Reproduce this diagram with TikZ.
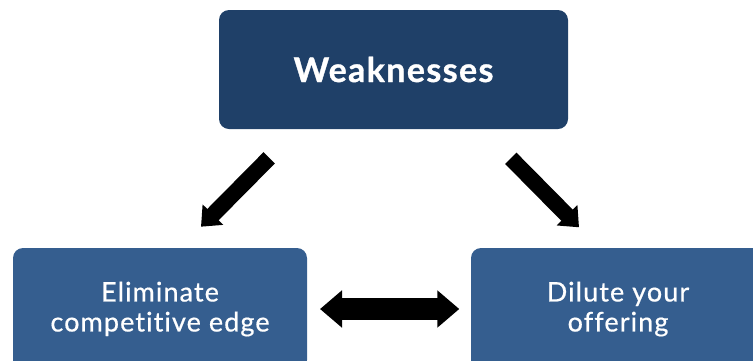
\documentclass[tikz,border=0pt]{standalone}
\usepackage{fontspec}
\setmainfont{Lato}
\newfontfamily\headfont[LetterSpace=4, Ligatures=NoCommon, FakeBold=1]{Lato}
\newfontfamily\bodyfont[LetterSpace=4, Ligatures=NoCommon, FakeBold=0.6]{Lato}
\usetikzlibrary{arrows.meta}
\definecolor{navy}{HTML}{1F4068}
\definecolor{steel}{HTML}{355E8F}

\begin{document}
\begin{tikzpicture}[x=1pt, y=-1pt,
    box/.style={rounded corners=10pt, text=white, align=center, inner sep=0pt},
    fatarrow/.style={line width=16pt, -{Triangle[width=28pt, length=17pt]}},
    twoway/.style={line width=22pt, {Triangle[width=36pt, length=22pt]}-{Triangle[width=36pt, length=22pt]}}]
    \useasboundingbox(0, 0) rectangle(753, 360);
    \clip(0, 0) rectangle(753, 360);
    \node[box, fill=navy, minimum width=349pt, minimum height=119pt, font=\headfont\fontsize{34}{40}\selectfont\bfseries](weak) at(393.5, 69.5){Weaknesses};
    \node[box, fill=steel, minimum width=294pt, minimum height=122pt, font=\bodyfont\fontsize{27}{30}\selectfont](elim) at(160, 309){Eliminate\\competitive edge};
    \node[box, fill=steel, minimum width=294pt, minimum height=122pt, font=\bodyfont\fontsize{27}{30}\selectfont](dilute) at(618, 309){Dilute your\\offering};
    % arrow ends, 45 degrees
    \coordinate(lt) at(269.2, 157.8);
    \coordinate(lh) at(201, 226.7);
    \coordinate(rt) at(510.8, 158.3);
    \coordinate(rh) at(579, 227.3);
    \coordinate(ml) at(320, 309);
    \coordinate(mr) at(459.3, 309);
    \draw[fatarrow](lt)--(lh);
    \draw[fatarrow](rt)--(rh);
    \draw[twoway](ml)--(mr);
\end{tikzpicture}
\end{document}
